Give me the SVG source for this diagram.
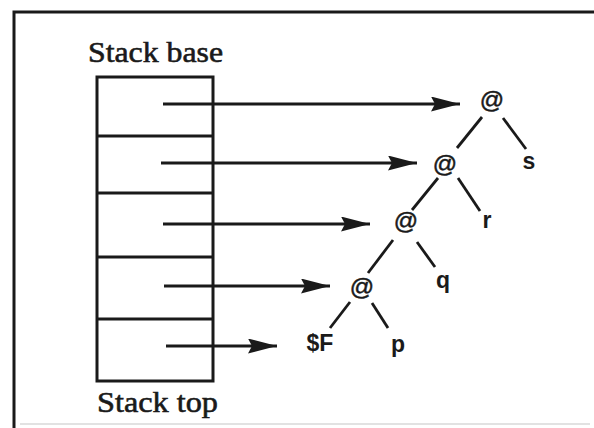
<svg xmlns="http://www.w3.org/2000/svg" width="594" height="428" viewBox="0 0 594 428">
<style>
.frame{stroke:#1a1a1a;stroke-width:3;fill:none}
.cell{stroke:#1a1a1a;stroke-width:3;fill:none}
.arrow{stroke:#1a1a1a;stroke-width:2.8;fill:none}
.edge{stroke:#1a1a1a;stroke-width:2.8;fill:none}
.serif{font-family:"Liberation Serif","Times New Roman",serif;font-size:30px;fill:#1a1a1a;stroke:#1a1a1a;stroke-width:0.6}
.at{font-family:"Liberation Sans",Arial,sans-serif;font-size:24px;fill:#1a1a1a;stroke:#1a1a1a;stroke-width:0.5;text-anchor:middle}
.leaf{font-family:"Liberation Sans",Arial,sans-serif;font-size:23px;font-weight:bold;fill:#1a1a1a;text-anchor:middle}
</style>
<defs>
<marker id="ah" markerUnits="userSpaceOnUse" markerWidth="32" markerHeight="16" refX="29" refY="7.5" orient="auto">
<path d="M0,0 L29,7.5 L0,15 L4,7.5 z" fill="#1a1a1a"/>
</marker>
</defs>
<rect width="594" height="428" fill="#ffffff"/>
<g id="frame">
<path class="frame" d="M14,428 L14,12 L594,12"/>
<line x1="20" y1="424" x2="590" y2="424" stroke="#d8d8d8" stroke-width="1.5"/>
</g>
<g id="stack">
<rect class="cell" x="97" y="77" width="116" height="304"/>
<line class="cell" x1="97" y1="136" x2="213" y2="136"/>
<line class="cell" x1="97" y1="193" x2="213" y2="193"/>
<line class="cell" x1="97" y1="257" x2="213" y2="257"/>
<line class="cell" x1="97" y1="319" x2="213" y2="319"/>
<text class="serif" x="88" y="62" textLength="135" lengthAdjust="spacingAndGlyphs">Stack base</text>
<text class="serif" x="97" y="412" textLength="121" lengthAdjust="spacingAndGlyphs">Stack top</text>
</g>
<g id="connectors">
<line class="arrow" x1="163" y1="104" x2="460" y2="104" marker-end="url(#ah)"/>
<line class="arrow" x1="161" y1="163" x2="417" y2="163" marker-end="url(#ah)"/>
<line class="arrow" x1="163" y1="224" x2="370" y2="224" marker-end="url(#ah)"/>
<line class="arrow" x1="164" y1="286" x2="330" y2="286" marker-end="url(#ah)"/>
<line class="arrow" x1="166" y1="346" x2="277" y2="346" marker-end="url(#ah)"/>
<line class="edge" x1="482" y1="117" x2="457" y2="148"/>
<line class="edge" x1="503" y1="118" x2="526" y2="149"/>
<line class="edge" x1="438" y1="178" x2="412" y2="210"/>
<line class="edge" x1="458" y1="178" x2="480" y2="211"/>
<line class="edge" x1="393" y1="240" x2="368" y2="273"/>
<line class="edge" x1="417" y1="242" x2="435" y2="267"/>
<line class="edge" x1="350" y1="302" x2="330" y2="328"/>
<line class="edge" x1="372" y1="303" x2="388" y2="328"/>
</g>
<g id="app1"><text class="at" x="492" y="108">@</text></g>
<g id="app2"><text class="at" x="445" y="172">@</text></g>
<g id="app3"><text class="at" x="406" y="229">@</text></g>
<g id="app4"><text class="at" x="362" y="295">@</text></g>
<g id="leaf-s"><text class="leaf" x="529" y="169">s</text></g>
<g id="leaf-r"><text class="leaf" x="487" y="228">r</text></g>
<g id="leaf-q"><text class="leaf" x="443" y="288">q</text></g>
<g id="leaf-F"><text class="leaf" x="320" y="351">$F</text></g>
<g id="leaf-p"><text class="leaf" x="398" y="352">p</text></g>
</svg>
